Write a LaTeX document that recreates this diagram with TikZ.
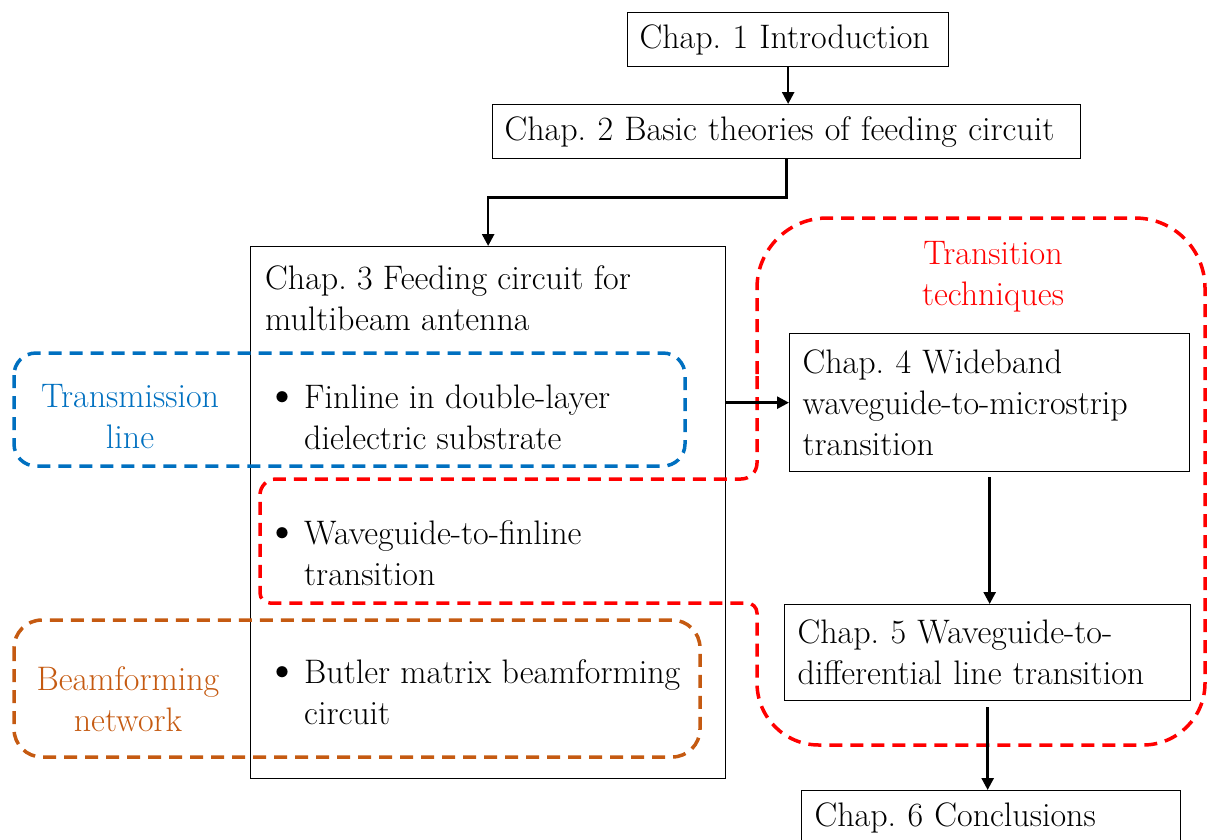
\documentclass[tikz,border=0pt]{standalone}
\usepackage{fontspec}
\usetikzlibrary{arrows.meta}
\definecolor{tlblue}{RGB}{0,112,192}
\definecolor{bforange}{RGB}{197,90,17}
\newcommand{\bitem}[2]{\makebox[32pt][l]{\hspace*{-8pt}\raisebox{-2pt}{\fontsize{50}{41}\selectfont\textbullet}}#1\\\hspace*{32pt}#2}
\frenchspacing

\begin{document}
\begin{tikzpicture}[x=1pt,y=-1pt,
  chap/.style={draw,line width=1.3pt,anchor=north west,align=left,inner xsep=12pt,inner ysep=0pt,font=\fontsize{34}{41}\selectfont},
  txt/.style={inner sep=0pt,align=left,font=\fontsize{34}{41}\selectfont},
  arr/.style={line width=2.6pt,-{Triangle[length=12pt,width=12pt]}},
  grp/.style={line width=3.5pt,dash pattern=on 13pt off 8pt}]
\clip (0,0) rectangle (1209,839);

\node[chap,text width=297pt,minimum height=54pt] (ch1) at (627,12) {Chap. 1 Introduction};
\node[chap,text width=564pt,minimum height=54pt] (ch2) at (492,104) {\mbox{Chap. 2 Basic theories of feeding circuit}};
\node[draw,line width=1.3pt,anchor=north west,minimum width=475pt,minimum height=532pt,inner sep=0pt] (ch3) at (250,246) {};
\node[txt,anchor=west] (ch3t) at (265,298) {Chap. 3 Feeding circuit for\\multibeam antenna};
\node[txt,anchor=west] (fin) at (272,417) {\bitem{Finline in double-layer}{dielectric substrate}};
\node[txt,anchor=west] (wgf) at (272,553) {\bitem{Waveguide-to-finline}{transition}};
\node[txt,anchor=west] (bm) at (272,692) {\bitem{Butler matrix beamforming}{circuit}};
\node[chap,text width=374pt,minimum height=138pt,inner xsep=13pt] (ch4) at (789,333) {Chap. 4 Wideband\\waveguide-to-microstrip\\transition};
\node[chap,text width=380pt,minimum height=96pt,inner xsep=13pt] (ch5) at (784,604) {Chap. 5 Waveguide-to-\\differential line transition};
\node[chap,text width=353pt,minimum height=54pt,inner xsep=13pt] (ch6) at (801,790) {Chap. 6 Conclusions};

%分组虚线框
\draw[grp,tlblue,rounded corners=22pt] (14,353) rectangle (685,466);
\draw[grp,bforange,rounded corners=28pt] (14,620) rectangle (700,757);
\draw[grp,red] (757,380) [rounded corners=70pt] -- (757,218) -- (1205,218) [rounded corners=62pt] -- (1205,745) -- (757,745)
  [rounded corners=10pt] -- (757,603) -- (260,603) [rounded corners=16pt] -- (260,479) -- (757,479) [rounded corners=6pt] -- cycle;

\node[txt,align=center,text=tlblue] (tl) at (130,417) {Transmission\\line};
\node[txt,align=center,text=bforange] (bf) at (128,699) {Beamforming\\network};
\node[txt,align=center,text=red] (tt) at (993,277) {Transition\\techniques};

\draw[arr] (ch1.south) -- (ch1.south |- ch2.north);
\draw[arr] (ch2.south) -- ++(0,38) -| (ch3.north);
\draw[arr] (ch4.west -| ch3.east) -- (ch4.west);
\draw[arr] ([yshift=-5pt]ch4.south) -- (ch4.south |- ch5.north);
\draw[arr] ([yshift=-6pt]ch5.south) -- (ch5.south |- ch6.north);
\end{tikzpicture}
\end{document}
